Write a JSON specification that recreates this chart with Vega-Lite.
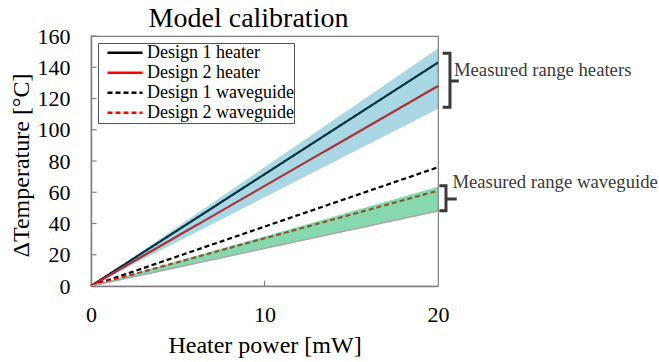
{
  "$schema": "https://vega.github.io/schema/vega-lite/v6.json",
  "width": 347,
  "height": 250,
  "autosize": {"type": "none"},
  "padding": {"left": 91, "top": 36, "right": 221, "bottom": 76},
  "background": "white",
  "title": {"text": "Model calibration", "fontSize": 28, "font": "Liberation Serif", "fontWeight": "normal", "color": "black", "anchor": "middle", "frame": "group", "dx": -16, "dy": 43, "offset": 7, "baseline": "bottom"},
  "datasets": {
    "lines": [
      {"series": "Design 1 heater", "power": 0, "temp": 0},
      {"series": "Design 1 heater", "power": 20, "temp": 143},
      {"series": "Design 2 heater", "power": 0, "temp": 0},
      {"series": "Design 2 heater", "power": 20, "temp": 128},
      {"series": "Design 1 waveguide", "power": 0, "temp": 0},
      {"series": "Design 1 waveguide", "power": 20, "temp": 76},
      {"series": "Design 2 waveguide", "power": 0, "temp": 0},
      {"series": "Design 2 waveguide", "power": 20, "temp": 61}
    ],
    "bands": [
      {"band": "heaters", "power": 0, "lo": 0, "hi": 0},
      {"band": "heaters", "power": 20, "lo": 113.5, "hi": 152},
      {"band": "waveguide", "power": 0, "lo": 0, "hi": 0},
      {"band": "waveguide", "power": 20, "lo": 48, "hi": 63.5}
    ],
    "xticks": [{"power": 10}],
    "yticks": [{"temp": 20}, {"temp": 40}, {"temp": 60}, {"temp": 80}, {"temp": 100}, {"temp": 120}, {"temp": 140}, {"temp": 160}],
    "braces": [
      {"brace": "heaters", "order": 1, "power": 20.27, "temp": 148.9},
      {"brace": "heaters", "order": 2, "power": 20.69, "temp": 148.9},
      {"brace": "heaters", "order": 3, "power": 20.69, "temp": 131.2},
      {"brace": "heaters", "order": 4, "power": 21.2, "temp": 131.2},
      {"brace": "heaters", "order": 5, "power": 20.69, "temp": 131.2},
      {"brace": "heaters", "order": 6, "power": 20.69, "temp": 114.4},
      {"brace": "heaters", "order": 7, "power": 20.27, "temp": 114.4},
      {"brace": "waveguide", "order": 1, "power": 20.08, "temp": 64.2},
      {"brace": "waveguide", "order": 2, "power": 20.46, "temp": 64.2},
      {"brace": "waveguide", "order": 3, "power": 20.46, "temp": 55.7},
      {"brace": "waveguide", "order": 4, "power": 21.08, "temp": 55.7},
      {"brace": "waveguide", "order": 5, "power": 20.46, "temp": 55.7},
      {"brace": "waveguide", "order": 6, "power": 20.46, "temp": 48.2},
      {"brace": "waveguide", "order": 7, "power": 20.08, "temp": 48.2}
    ],
    "notes": [
      {"label": "Measured range heaters", "power": 20.92, "temp": 134.4},
      {"label": "Measured range waveguide", "power": 20.83, "temp": 62.5}
    ]
  },
  "layer": [
    {
      "data": {"name": "lines"},
      "mark": {"type": "line", "strokeWidth": 2.2},
      "encoding": {
        "x": {"field": "power", "type": "quantitative", "title": "Heater power [mW]", "scale": {"domain": [0, 20], "nice": false, "zero": false}, "axis": {"values": [0, 10, 20]}},
        "y": {"field": "temp", "type": "quantitative", "title": "ΔTemperature [°C]", "scale": {"domain": [0, 160], "nice": false, "zero": false}, "axis": {"values": [0, 20, 40, 60, 80, 100, 120, 140, 160]}},
        "color": {"field": "series", "type": "nominal", "title": null, "scale": {"domain": ["Design 1 heater", "Design 2 heater", "Design 1 waveguide", "Design 2 waveguide"], "range": ["#000000", "#ff0000", "#000000", "#ff0000"]}},
        "strokeDash": {"field": "series", "type": "nominal", "title": null, "scale": {"domain": ["Design 1 heater", "Design 2 heater", "Design 1 waveguide", "Design 2 waveguide"], "range": [[1, 0], [1, 0], [5, 3], [5, 3]]}}
      }
    },
    {
      "data": {"name": "bands"},
      "transform": [{"filter": "datum.band === 'heaters'"}],
      "mark": {"type": "area", "color": "#0c8db2", "opacity": 0.35},
      "encoding": {
        "x": {"field": "power", "type": "quantitative", "title": "Heater power [mW]", "axis": {"values": [0, 10, 20]}},
        "y": {"field": "lo", "type": "quantitative", "title": "ΔTemperature [°C]", "axis": {"values": [0, 20, 40, 60, 80, 100, 120, 140, 160]}},
        "y2": {"field": "hi"}
      }
    },
    {
      "data": {"name": "bands"},
      "transform": [{"filter": "datum.band === 'waveguide'"}],
      "mark": {"type": "area", "color": "#10b060", "opacity": 0.5},
      "encoding": {
        "x": {"field": "power", "type": "quantitative", "title": "Heater power [mW]", "axis": {"values": [0, 10, 20]}},
        "y": {"field": "lo", "type": "quantitative", "title": "ΔTemperature [°C]", "axis": {"values": [0, 20, 40, 60, 80, 100, 120, 140, 160]}},
        "y2": {"field": "hi"}
      }
    },
    {
      "data": {"name": "bands"},
      "transform": [{"filter": "datum.band === 'waveguide'"}],
      "mark": {"type": "line", "color": "#a8a8a8", "strokeWidth": 1.5},
      "encoding": {
        "x": {"field": "power", "type": "quantitative", "title": "Heater power [mW]", "axis": {"values": [0, 10, 20]}},
        "y": {"field": "lo", "type": "quantitative", "title": "ΔTemperature [°C]", "axis": {"values": [0, 20, 40, 60, 80, 100, 120, 140, 160]}}
      }
    },
    {
      "data": {"name": "xticks"},
      "mark": {"type": "rule", "color": "#808080", "strokeWidth": 1.2},
      "encoding": {
        "x": {"field": "power", "type": "quantitative", "title": "Heater power [mW]", "axis": {"values": [0, 10, 20]}},
        "y": {"datum": 0, "type": "quantitative", "title": "ΔTemperature [°C]", "axis": {"values": [0, 20, 40, 60, 80, 100, 120, 140, 160]}},
        "y2": {"datum": 3.4}
      }
    },
    {
      "data": {"name": "yticks"},
      "mark": {"type": "rule", "color": "#808080", "strokeWidth": 1.2},
      "encoding": {
        "y": {"field": "temp", "type": "quantitative", "title": "ΔTemperature [°C]", "axis": {"values": [0, 20, 40, 60, 80, 100, 120, 140, 160]}},
        "x": {"datum": 0, "type": "quantitative", "title": "Heater power [mW]", "axis": {"values": [0, 10, 20]}},
        "x2": {"datum": 0.32}
      }
    },
    {
      "data": {"name": "braces"},
      "mark": {"type": "line", "color": "#3a3a3a", "strokeWidth": 3, "clip": false, "strokeJoin": "miter"},
      "encoding": {
        "x": {"field": "power", "type": "quantitative", "title": "Heater power [mW]", "axis": {"values": [0, 10, 20]}},
        "y": {"field": "temp", "type": "quantitative", "title": "ΔTemperature [°C]", "axis": {"values": [0, 20, 40, 60, 80, 100, 120, 140, 160]}},
        "detail": {"field": "brace"},
        "order": {"field": "order", "type": "quantitative"}
      }
    },
    {
      "data": {"name": "notes"},
      "mark": {"type": "text", "align": "left", "baseline": "alphabetic", "font": "Liberation Serif", "fontSize": 18.7, "color": "#3a3a3a", "clip": false},
      "encoding": {
        "x": {"field": "power", "type": "quantitative", "title": "Heater power [mW]", "axis": {"values": [0, 10, 20]}},
        "y": {"field": "temp", "type": "quantitative", "title": "ΔTemperature [°C]", "axis": {"values": [0, 20, 40, 60, 80, 100, 120, 140, 160]}},
        "text": {"field": "label"}
      }
    }
  ],
  "config": {
    "font": "Liberation Serif",
    "view": {"stroke": "#808080", "strokeWidth": 1.2},
    "axis": {
      "grid": false,
      "domainColor": "#808080",
      "domainWidth": 1.5,
      "ticks": false,
      "labelFont": "Liberation Serif",
      "labelFontSize": 22,
      "labelColor": "black",
      "labelFlush": false,
      "labelOverlap": false,
      "titleFont": "Liberation Serif",
      "titleFontSize": 24,
      "titleFontWeight": "normal",
      "titleColor": "black"
    },
    "axisX": {"labelPadding": 18, "labelAngle": 0, "titleX": 173.5, "titleY": 59, "titleBaseline": "middle", "titleAlign": "center"},
    "axisY": {"labelPadding": 21, "titleX": -70, "titleY": 129, "titleAngle": -90, "titleBaseline": "middle", "titleAlign": "center"},
    "legend": {
      "orient": "none",
      "legendX": 7,
      "legendY": 7,
      "padding": 0,
      "symbolOffset": 8,
      "clipHeight": 19.5,
      "rowPadding": 0,
      "labelOffset": 3,
      "symbolType": "stroke",
      "symbolSize": 1225,
      "symbolStrokeWidth": 2.5,
      "labelFont": "Liberation Serif",
      "labelFontSize": 18,
      "labelColor": "black",
      "labelLimit": 300,
      "strokeColor": "#555555",
      "fillColor": "white"
    }
  }
}
